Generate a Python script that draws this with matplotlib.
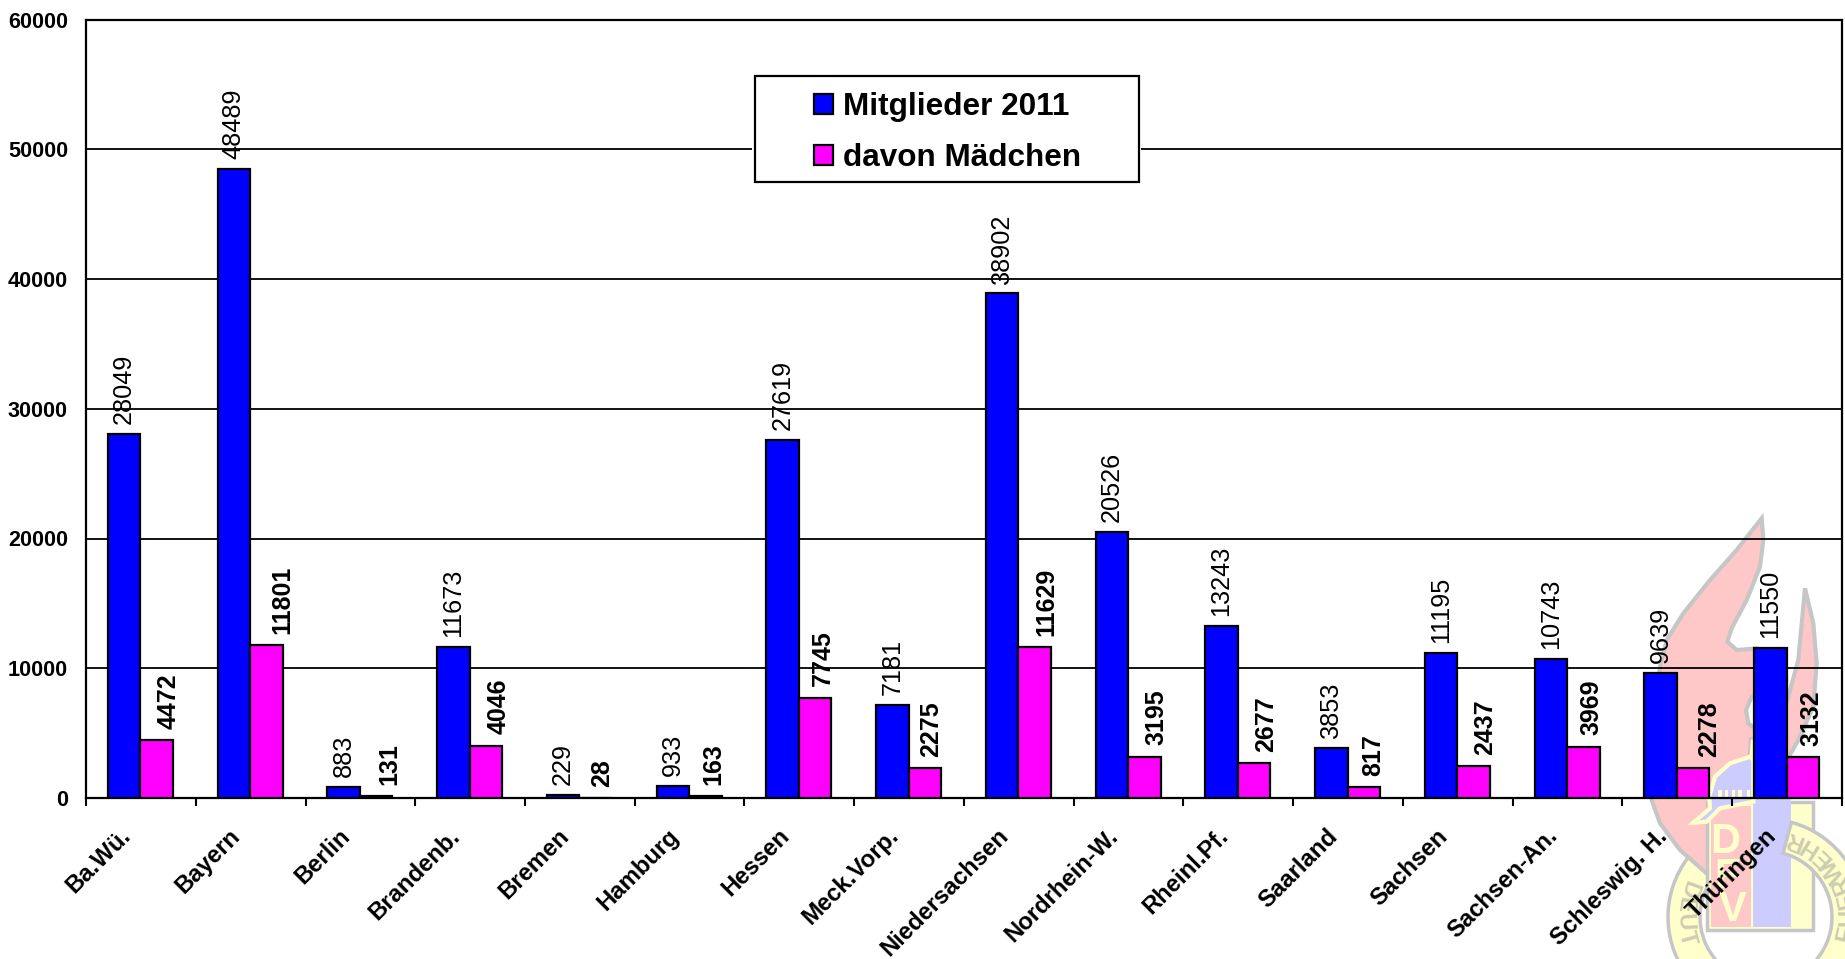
import numpy as np
import matplotlib
matplotlib.use("Agg")
import matplotlib.pyplot as plt
from matplotlib.patches import Polygon, Rectangle, Wedge
from matplotlib.transforms import ScaledTranslation

plt.rcParams['font.family'] = ['Liberation Sans', 'DejaVu Sans']

W, H = 1845, 959

laender = ["Ba.Wü.", "Bayern", "Berlin", "Brandenb.", "Bremen", "Hamburg", "Hessen", "Meck.Vorp.",
           "Niedersachsen", "Nordrhein-W.", "Rheinl.Pf.", "Saarland", "Sachsen", "Sachsen-An.",
           "Schleswig. H.", "Thüringen"]
mitglieder = [28049, 48489, 883, 11673, 229, 933, 27619, 7181, 38902, 20526, 13243, 3853, 11195, 10743, 9639, 11550]
maedchen = [4472, 11801, 131, 4046, 28, 163, 7745, 2275, 11629, 3195, 2677, 817, 2437, 3969, 2278, 3132]
y_ticks = [0, 10000, 20000, 30000, 40000, 50000, 60000]

# sideways shift of the bold labels, in px (they are not centred on their bars in the original)
nudge_px = [12, 16, 13, 13, 7, 8, 8, 6, 12, 12, 12, 9, 12, 8, 16, 9]

# emblem outlines, in pixels of the zoomed crop
flame_z = [(635, 55), (640, 120), (630, 200), (590, 300), (545, 385), (532, 425), (560, 450), (620, 445),
           (660, 600), (712, 600), (745, 480), (765, 265), (790, 370), (800, 490), (790, 620), (745, 720),
           (700, 800), (700, 1000), (470, 1120), (390, 1050), (330, 970), (305, 900), (308, 750), (320, 600),
           (330, 500), (350, 420), (400, 340), (480, 240), (560, 150)]
hole_z = [(605, 590), (588, 630), (595, 670), (620, 690), (640, 640), (630, 590)]
helmet_z = [(430, 968), (470, 965), (510, 925), (610, 905), (610, 780), (600, 770), (540, 790), (495, 830),
            (478, 890), (480, 925)]
crest_z = [(595, 775), (600, 715), (612, 715), (612, 780)]
teeth_x = [505, 525, 545, 565, 590]


def z2px(pts):
    # crop was taken at (1550, 500) and scaled 3x
    return [(1550 + x / 3, 500 + y / 3) for x, y in pts]


def draw_emblem(bg):
    grey = "#c6c6c6"
    cx, cy = 1766, 917
    # ring angles are flipped because the y axis runs downward
    bg.add_patch(Wedge((cx, cy), 98, 90, 220, width=32, fc="#ffffcc", ec=grey, lw=2.5))
    bg.add_patch(Polygon(z2px(flame_z), fc="#ffc8c8", ec=grey, lw=3))
    bg.add_patch(Polygon(z2px(hole_z), fc="white", ec=grey, lw=3))
    # shield
    bg.add_patch(Polygon([(1707, 802), (1813, 802), (1813, 930), (1707, 930)], fc="#ffffcc", ec=grey, lw=2.5))
    bg.add_patch(Polygon([(1711, 806), (1751, 806), (1751, 927), (1711, 927)], fc="#ffc8c8", ec="none"))
    bg.add_patch(Polygon([(1753, 770), (1791, 770), (1791, 927), (1753, 927)], fc="#ccccff", ec="none"))
    bg.add_patch(Polygon(z2px(crest_z), fc="#ffffcc", ec=grey, lw=1.5))
    bg.add_patch(Polygon(z2px(helmet_z), fc="#ccccff", ec="#ffffcc", lw=3))
    for tx in teeth_x:
        bg.add_patch(Polygon(z2px([(tx, 870), (tx + 10, 870), (tx + 10, 898), (tx, 898)]), fc="#ffffcc", ec="none"))
    for letter, (x, y) in zip("DFV", [(1725, 842), (1727, 877), (1733, 910)]):
        bg.text(x, y, letter, color="#ffffcc", fontsize=30, fontweight="bold", ha="center", va="center")
    bg.add_patch(Wedge((cx, cy), 98, -75, 90, width=32, fc="#ffffcc", ec=grey, lw=2.5))
    # ring text runs counterclockwise with the letter tops pointing inward
    ring_text = "DEUTSCHE JUGENDFEUERWEHR"
    for ch, a in zip(ring_text, np.linspace(160, 430, len(ring_text))):
        t = np.deg2rad(a)
        px, py = cx + 82 * np.cos(t), cy - 82 * np.sin(t)
        if py < 950:
            bg.text(px, py, ch, color="#cdcdb0", fontsize=17, fontweight="bold",
                    ha="center", va="center", rotation=(a + 90) % 360, rotation_mode="anchor")


fig = plt.figure(figsize=(W / 100, H / 100), dpi=100, facecolor="white")

bg = fig.add_axes([0, 0, 1, 1], zorder=0)
bg.set_xlim(0, W)
bg.set_ylim(H, 0)
bg.axis("off")
draw_emblem(bg)

ax = fig.add_axes([86 / W, 1 - 798 / H, 1756 / W, 778.5 / H], zorder=1)
ax.patch.set_alpha(0)

x = np.arange(len(laender))
bw = 32.5 / 110
bars1 = ax.bar(x - bw / 2 - 0.005, mitglieder, bw, color="#0000ff", edgecolor="black", linewidth=1.6, zorder=3, label="Mitglieder 2011")
bars2 = ax.bar(x + bw / 2 - 0.005, maedchen, bw, color="#ff00ff", edgecolor="black", linewidth=1.6, zorder=3, label="davon Mädchen")

for b, v in zip(bars1, mitglieder):
    ax.annotate(str(v), (b.get_x() + b.get_width() / 2, v), xytext=(0, 7), textcoords="offset points",
                rotation=90, ha="center", va="bottom", fontsize=18.2, zorder=4)
for b, v, n in zip(bars2, maedchen, nudge_px):
    ax.annotate(str(v), (b.get_x() + b.get_width() / 2, v), xytext=(n * 0.72, 8), textcoords="offset points",
                rotation=90, ha="center", va="bottom", fontsize=18, fontweight="bold", zorder=4)

ax.set_xlim(-0.5, len(laender) - 0.5)
ax.set_ylim(0, 60000)
ax.set_yticks(y_ticks)
ax.set_yticklabels([str(v) for v in y_ticks], fontsize=15.6, fontweight="bold")
ax.tick_params(axis="y", length=0, pad=13)
ax.grid(axis="y", color="black", lw=1.3, zorder=1)
ax.set_axisbelow(True)

ax.set_xticks(np.arange(len(laender) + 1) - 0.5)
ax.set_xticklabels([])
ax.tick_params(axis="x", which="major", length=6, width=1.5)
ax.set_xticks(x, minor=True)
ax.set_xticklabels(laender, minor=True, rotation=45, ha="right", rotation_mode="anchor", fontsize=17.2, fontweight="bold")
ax.tick_params(axis="x", which="minor", length=0, pad=19)
shift = ScaledTranslation(-22 / 100, 0, fig.dpi_scale_trans)
for lbl in ax.get_xticklabels(minor=True):
    lbl.set_transform(lbl.get_transform() + shift)

for s in ax.spines.values():
    s.set_linewidth(1.6)

# legend box sits over the grid with a small white margin
ax.add_patch(Rectangle((752 / W, 1 - 184 / H), 389 / W, 110 / H, transform=fig.transFigure, fc="white", ec="none", zorder=5))
ax.add_patch(Rectangle((754.5 / W, 1 - 182 / H), 384.5 / W, 106 / H, transform=fig.transFigure, fc="white", ec="black", lw=1.6, zorder=6))
leg = ax.legend(loc="upper left", bbox_to_anchor=(808 / W, 1 - 86 / H), bbox_transform=fig.transFigure, frameon=False,
                prop={"size": 22.7, "weight": "bold"}, handlelength=0.58, handleheight=0.58, handletextpad=0.33,
                labelspacing=0.66, borderpad=0.2, borderaxespad=0)
leg.set_zorder(7)

fig.savefig("out.png", dpi=100)
